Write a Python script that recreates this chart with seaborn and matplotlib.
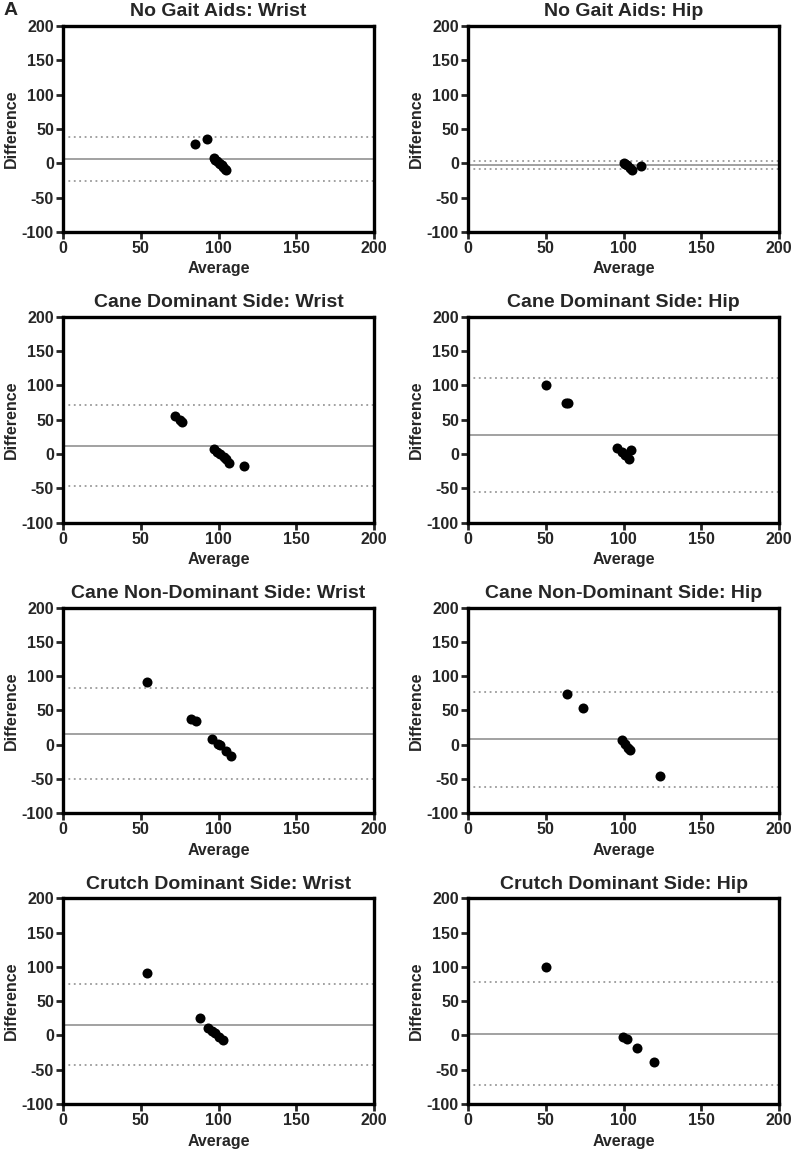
import numpy as np
import pandas as pd
import matplotlib
matplotlib.use("Agg")
import matplotlib.pyplot as plt
import seaborn as sns

sns.set_style("ticks")
plt.rcParams['font.family'] = ['Liberation Sans', 'DejaVu Sans']
plt.rcParams['font.weight'] = 'bold'
plt.rcParams['axes.unicode_minus'] = False

titles = [
    "No Gait Aids: Wrist", "No Gait Aids: Hip",
    "Cane Dominant Side: Wrist", "Cane Dominant Side: Hip",
    "Cane Non-Dominant Side: Wrist", "Cane Non-Dominant Side: Hip",
    "Crutch Dominant Side: Wrist", "Crutch Dominant Side: Hip",
]

# average / difference per panel
avg_nogait_wrist = [85, 92.3, 97, 98, 99, 100, 101, 102, 103, 104, 105]
diff_nogait_wrist = [28.5, 35, 8, 5, 3, 1, -1, -3, -5, -8, -10]
avg_nogait_hip = [100, 101, 102, 104, 105.6, 111.4]
diff_nogait_hip = [0, -1, -3, -7, -10, -4]
avg_cane_dom_wrist = [72.3, 75, 76.8, 97.2, 99, 100.9, 103.4, 105, 106.9, 116.5]
diff_cane_dom_wrist = [56, 50, 47, 6.5, 3, 0, -4, -8, -13, -18]
avg_cane_dom_hip = [50, 63.3, 64.4, 95.5, 98.7, 100.9, 103.6, 104.5]
diff_cane_dom_hip = [100, 74.4, 74, 8.8, 2.4, -1, -8, 5.3]
avg_cane_nondom_wrist = [54.3, 82, 85.4, 95.5, 99.8, 100.9, 105, 108]
diff_cane_nondom_wrist = [91.9, 37.9, 34, 8.6, 0.3, -0.6, -9.4, -16.7]
avg_cane_nondom_hip = [63.7, 74, 99.1, 100.9, 102.6, 104, 123.2]
diff_cane_nondom_hip = [73.4, 53.9, 6.7, 0.3, -4.5, -7.9, -45]
avg_crutch_dom_wrist = [54.3, 88, 93.3, 95.5, 97.6, 100.4, 103]
diff_crutch_dom_wrist = [90.6, 24.9, 10.4, 7, 3, -1.8, -6.7]
avg_crutch_dom_hip = [50, 99.8, 102.4, 108.4, 119.5]
diff_crutch_dom_hip = [99.4, -1.8, -5.2, -17.8, -38.7]

# bias and limits of agreement per panel
bias = [6.2, -3, 12.3, 27.2, 16, 8.1, 15.2, 2.6]
upper_loa = [37.7, 2.9, 71, 110.8, 82, 76.8, 74.6, 77.5]
lower_loa = [-25.3, -8.7, -46.5, -55, -49.8, -61, -43, -72.3]

avgs = [avg_nogait_wrist, avg_nogait_hip, avg_cane_dom_wrist, avg_cane_dom_hip,
        avg_cane_nondom_wrist, avg_cane_nondom_hip, avg_crutch_dom_wrist, avg_crutch_dom_hip]
diffs = [diff_nogait_wrist, diff_nogait_hip, diff_cane_dom_wrist, diff_cane_dom_hip,
         diff_cane_nondom_wrist, diff_cane_nondom_hip, diff_crutch_dom_wrist, diff_crutch_dom_hip]

fig, axes = plt.subplots(4, 2, figsize=(7.95, 11.53), dpi=100)
fig.subplots_adjust(left=0.0792, right=0.98, top=0.9774, bottom=0.0425,
                    wspace=0.302, hspace=0.413)

for i, ax in enumerate(axes.flat):
    df = pd.DataFrame({'Average': avgs[i], 'Difference': diffs[i]})
    ax.axhline(bias[i], color='#9a9a9a', lw=1.3, zorder=1)
    ax.axhline(upper_loa[i], color='#9a9a9a', lw=1.3, ls=(0, (1, 2)), zorder=1)
    ax.axhline(lower_loa[i], color='#9a9a9a', lw=1.3, ls=(0, (1, 2)), zorder=1)
    sns.scatterplot(data=df, x='Average', y='Difference', ax=ax, color='black',
                    s=52, edgecolor='black', linewidth=0, zorder=3)
    ax.set_xlim(0, 200)
    ax.set_ylim(-100, 200)
    ax.set_xticks([0, 50, 100, 150, 200])
    ax.set_yticks([-100, -50, 0, 50, 100, 150, 200])
    for s in ax.spines.values():
        s.set_linewidth(2.4)
        s.set_color('black')
    ax.tick_params(direction='out', length=5, width=2, labelsize=11.5, pad=1.5)
    for lab in ax.get_xticklabels() + ax.get_yticklabels():
        lab.set_fontweight('bold')
    ax.set_xlabel('Average', fontsize=11.5, fontweight='bold', labelpad=4)
    ax.set_ylabel('Difference', fontsize=11.5, fontweight='bold', labelpad=2)
    ax.set_title(titles[i], fontsize=14, fontweight='bold', pad=7)

fig.text(0.004, 0.998, 'A', fontsize=14, fontweight='bold', va='top', ha='left')

fig.savefig('out.png', dpi=100)
